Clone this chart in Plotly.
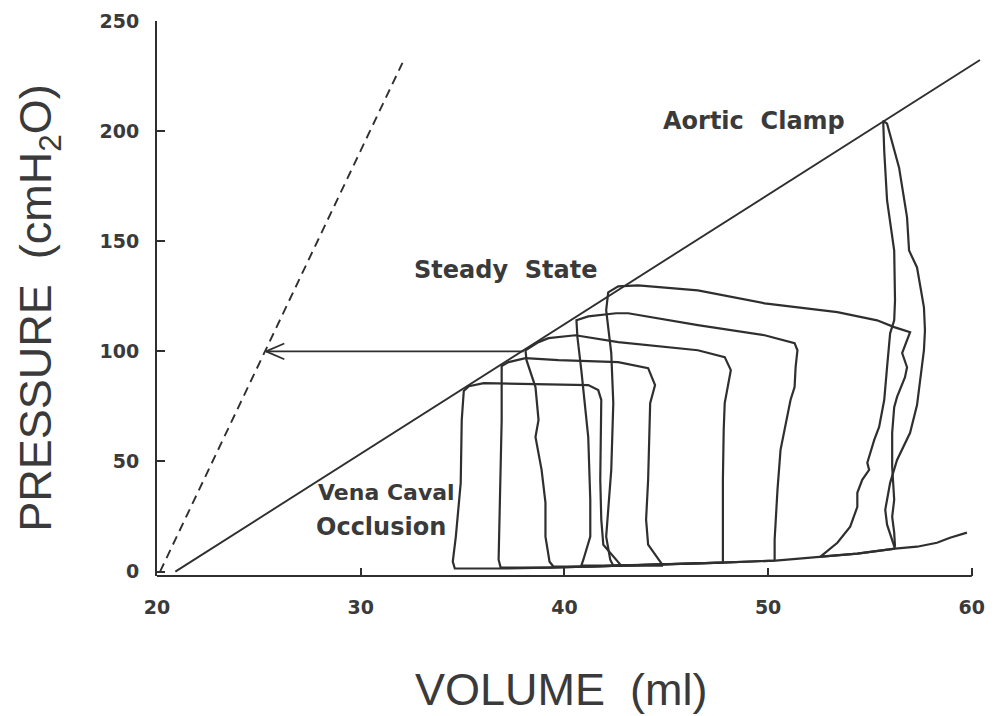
import plotly.graph_objects as go

# ---- pressure-volume data (volume in ml, pressure in cmH2O) ----
# end-systolic pressure-volume relation (solid) and reference line (dashed)
espvr_v = [20.9, 60.4]
espvr_p = [0.0, 232.3]
ref_v = [20.15, 32.05]
ref_p = [0.0, 231.0]

# horizontal arrow at 100 cmH2O from the ESPVR back to the dashed line
arrow_v = [38.0, 25.35]
arrow_p = [100.0, 100.0]

# steady-state loop
loop1_v = [56.23, 56.19, 56.09, 56.19, 56.09, 56.09, 56.19, 56.33, 56.72, 56.82, 56.58, 56.68,
           56.97, 56.19, 55.35, 53.40, 49.83, 46.55, 43.62, 42.64, 42.15, 42.05, 42.30, 42.40,
           42.30, 42.05, 42.25, 42.40, 44.74, 47.73, 50.37, 52.76, 54.38, 56.23]
loop1_p = [11.3, 17.7, 24.9, 32.6, 47.6, 63.0, 74.7, 79.3, 88.3, 92.8, 99.2, 101.9,
           108.7, 111.0, 114.1, 117.8, 121.8, 127.7, 130.0, 129.5, 126.8, 118.7, 99.2, 76.5,
           46.2, 15.9, 5.4, 2.7, 3.2, 4.1, 5.0, 6.8, 8.2, 10.4]

# loops during vena caval occlusion
loop2_v = [50.32, 50.32, 50.46, 50.61, 51.10, 51.30, 51.35, 51.44, 51.30, 49.83, 46.55, 43.13,
           42.54, 41.17, 40.59, 40.64, 40.83, 41.17, 41.27, 41.27, 40.93, 40.83, 42.79, 44.74,
           47.73, 50.32]
loop2_p = [5.0, 14.5, 37.1, 55.3, 77.9, 83.8, 92.8, 100.5, 103.7, 107.3, 111.9, 117.3,
           117.3, 115.9, 114.1, 106.4, 91.5, 61.1, 32.6, 15.9, 5.4, 2.7, 2.7, 3.2,
           4.1, 5.0]

loop3_v = [47.78, 47.78, 47.78, 47.82, 47.87, 48.17, 47.87, 46.55, 42.64, 40.54, 39.22, 38.73,
           38.09, 38.14, 38.58, 38.73, 38.58, 38.88, 39.07, 39.07, 39.27, 39.46, 41.03, 42.79,
           44.74, 47.78]
loop3_p = [4.1, 14.5, 41.7, 64.3, 76.5, 91.5, 97.4, 100.5, 104.2, 107.3, 106.0, 104.2,
           100.5, 96.0, 83.8, 68.8, 61.1, 46.2, 31.3, 15.9, 4.5, 2.3, 2.3, 2.7,
           3.2, 4.1]

loop4_v = [44.84, 44.11, 44.01, 44.11, 44.21, 44.45, 44.11, 42.64, 39.71, 38.09, 37.26, 36.92,
           36.92, 36.82, 36.77, 36.87, 39.22, 41.03, 42.79, 44.84]
loop4_p = [2.7, 12.2, 23.6, 41.7, 76.5, 84.7, 92.4, 95.1, 96.0, 96.9, 95.1, 93.3,
           68.8, 32.6, 5.4, 1.8, 1.8, 2.3, 2.7, 2.7]

loop5_v = [42.79, 41.91, 41.81, 41.76, 41.81, 41.66, 41.17, 36.04, 35.31, 35.06, 34.96, 34.91,
           34.67, 34.52, 34.62, 36.77, 39.22, 41.03, 42.79]
loop5_p = [2.7, 12.2, 23.6, 41.7, 77.9, 82.4, 84.7, 85.6, 84.2, 82.0, 68.8, 40.3,
           15.9, 4.5, 1.4, 1.4, 1.8, 2.3, 2.7]

# ejecting beat against the aortic clamp
clamp_v = [56.23, 56.09, 55.84, 55.75, 55.99, 56.33, 56.97, 57.31, 57.46, 57.65, 57.70, 57.65,
           57.31, 56.92, 56.82, 56.43, 55.84, 55.65, 55.70, 55.84, 56.19, 56.23, 56.19, 55.99,
           55.84, 55.70, 55.45, 55.21, 54.87, 54.96, 54.62, 54.38, 54.38, 54.03, 53.40, 52.57,
           54.38, 56.23]
clamp_p = [10.4, 14.5, 21.3, 28.1, 40.3, 50.7, 63.0, 75.6, 85.6, 100.5, 109.6, 120.0,
           138.1, 145.8, 160.8, 183.4, 203.4, 204.7, 191.1, 168.5, 145.8, 123.2, 114.1, 108.2,
           92.8, 77.9, 65.7, 59.8, 49.4, 46.2, 41.7, 35.8, 29.4, 20.4, 13.1, 6.8,
           8.2, 10.4]

# diastolic filling continuing beyond the clamp loop
edpvr_v = [56.23, 57.31, 58.29, 58.93, 59.76]
edpvr_p = [10.4, 11.3, 13.1, 15.4, 17.7]

x_ticks = [20, 30, 40, 50, 60]
y_ticks = [0, 50, 100, 150, 200, 250]

INK = "#2f2f2f"
TEXT = "#3a3a3a"

fig = go.Figure()


def add_curve(v, p, width=2.0, dash=None):
    fig.add_trace(go.Scatter(
        x=v, y=p, mode="lines",
        line=dict(color=INK, width=width, dash=dash),
        hoverinfo="skip", showlegend=False,
    ))


add_curve(ref_v, ref_p, width=1.9, dash="9px,6px")
add_curve(espvr_v, espvr_p, width=1.9)
for v, p in [(loop1_v, loop1_p), (loop2_v, loop2_p), (loop3_v, loop3_p),
             (loop4_v, loop4_p), (loop5_v, loop5_p), (clamp_v, clamp_p),
             (edpvr_v, edpvr_p)]:
    add_curve(v, p, width=2.2)

# arrow shaft plus an open "<" head at its tip
add_curve(arrow_v, arrow_p, width=1.7)
tip_v, tip_p = arrow_v[-1], arrow_p[-1]
head_dv, head_dp = 0.9, 3.6
add_curve([tip_v + head_dv, tip_v, tip_v + head_dv],
          [tip_p + head_dp, tip_p, tip_p - head_dp], width=1.7)

label_font = dict(family="DejaVu Sans", size=24, color=TEXT, weight="bold")
small_label_font = dict(family="DejaVu Sans", size=22, color=TEXT, weight="bold")
title_font = dict(family="Liberation Sans", size=45, color=TEXT)

annotations = [
    dict(text="Aortic\u00a0\u00a0Clamp", x=49.29, y=204.7, xref="x", yref="y",
         xanchor="center", yanchor="middle", showarrow=False, font=label_font),
    dict(text="Steady\u00a0\u00a0State", x=37.11, y=136.8, xref="x", yref="y",
         xanchor="center", yanchor="middle", showarrow=False, font=label_font),
    dict(text="Vena\u00a0Caval", x=27.8, y=35.8, xref="x", yref="y",
         xanchor="left", yanchor="middle", showarrow=False, font=small_label_font),
    dict(text="Occlusion", x=27.73, y=20.4, xref="x", yref="y",
         xanchor="left", yanchor="middle", showarrow=False, font=label_font),
    dict(text="VOLUME\u00a0\u00a0(ml)", x=0.49, y=-0.205, xref="paper", yref="paper",
         xanchor="center", yanchor="middle", showarrow=False, font=title_font),
    dict(text="PRESSURE\u00a0\u00a0(cmH<sub>2</sub>O)", x=-0.1437, y=0.484,
         xref="paper", yref="paper", xanchor="center", yanchor="middle",
         textangle=-90, showarrow=False, font=title_font),
]

tick_font = dict(family="DejaVu Sans", size=19, color=TEXT, weight="bold")

fig.update_layout(
    width=995, height=716,
    margin=dict(l=157, r=10, t=20, b=140),
    paper_bgcolor="white", plot_bgcolor="white",
    annotations=annotations,
    shapes=[dict(type="line", xref="x", yref="paper", x0=x_ticks[0], x1=x_ticks[-1],
                 y0=0, y1=0, line=dict(color=INK, width=2))],
    xaxis=dict(range=[20, 60.5], tickvals=x_ticks, ticks="inside", ticklen=8,
               tickwidth=2, tickcolor=INK, showline=False, showgrid=False,
               zeroline=False, tickfont=tick_font, ticklabelstandoff=18),
    yaxis=dict(range=[-2, 250], tickvals=y_ticks, ticks="inside", ticklen=8,
               tickwidth=2, tickcolor=INK, showline=True, linewidth=2, linecolor=INK,
               showgrid=False, zeroline=False, tickfont=tick_font, ticklabelstandoff=12),
)

fig.write_html("out.html")
